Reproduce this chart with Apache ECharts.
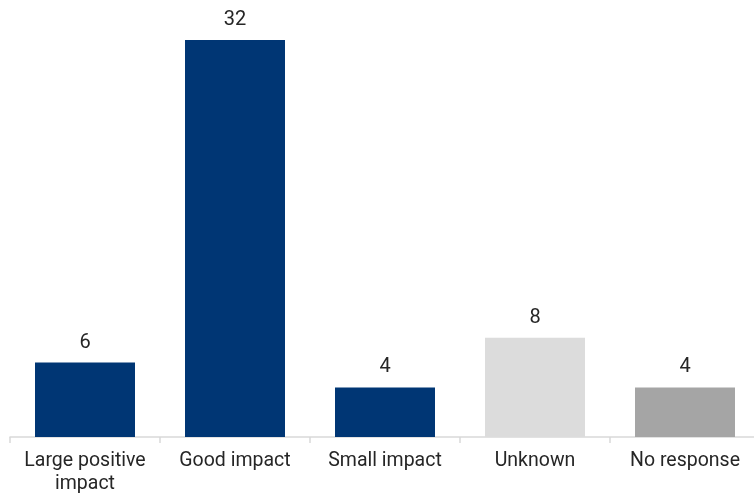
<!DOCTYPE html>
<html>
<head>
<meta charset="utf-8">
<script src="https://cdn.jsdelivr.net/npm/echarts@6/dist/echarts.min.js"></script>
<style>
  html, body { margin: 0; padding: 0; background: #fff; }
  #chart { width: 754px; height: 495px; }
</style>
</head>
<body>
<div id="chart"></div>
<script>
  // categories and counts
  var categories = ["Large positive\nimpact", "Good impact", "Small impact", "Unknown", "No response"];
  var counts = [6, 32, 4, 8, 4];
  var barColors = ["#003674", "#003674", "#003674", "#dcdcdc", "#a5a5a5"];

  var chart = echarts.init(document.getElementById("chart"));
  var fontFamily = "Roboto";

  var option = {
    animation: false,
    grid: {
      left: 10,
      right: -6,
      top: 40,
      bottom: 58,
      containLabel: false,
      outerBoundsMode: "none",
    },
    xAxis: {
      type: "category",
      data: categories,
      axisLine: {
        lineStyle: { color: "#d9d9d9", width: 1.5 },
      },
      axisTick: {
        show: true,
        length: 6,
        lineStyle: { color: "#d9d9d9", width: 1.5 },
      },
      axisLabel: {
        color: "#262626",
        fontSize: 19.5,
        fontFamily: fontFamily,
        margin: 13,
        lineHeight: 23,
        interval: 0,
      },
    },
    yAxis: {
      type: "value",
      min: 0,
      max: 32,
      show: false,
      splitLine: { show: false },
    },
    series: [
      {
        type: "bar",
        barWidth: 100,
        data: counts.map(function (v, i) {
          return { value: v, itemStyle: { color: barColors[i] } };
        }),
        label: {
          show: true,
          position: "top",
          distance: 10,
          color: "#262626",
          fontSize: 20,
          fontFamily: fontFamily,
        },
      },
    ],
  };

  chart.setOption(option);
</script>
</body>
</html>
